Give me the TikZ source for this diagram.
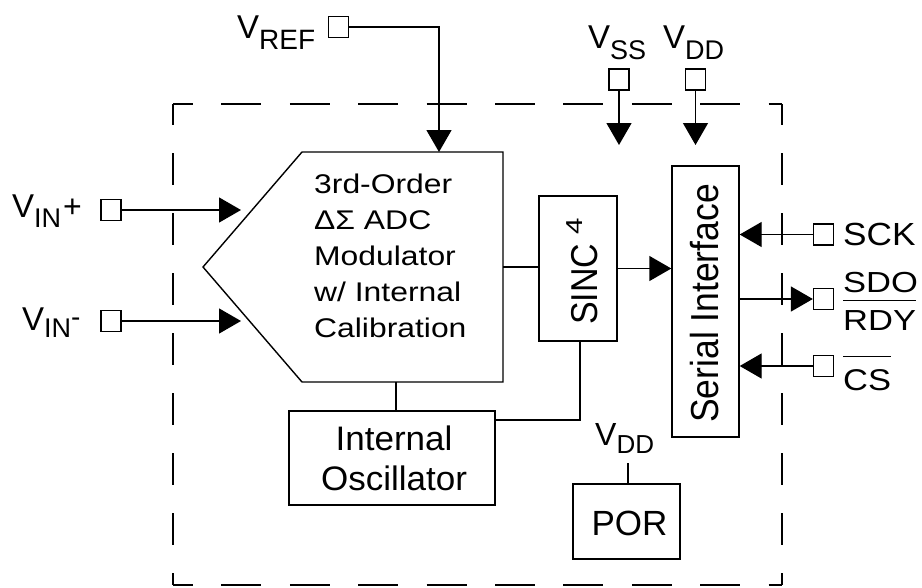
\documentclass[tikz,border=0pt]{standalone}
\usepackage{fontspec}
\setmainfont{Liberation Sans}
\usetikzlibrary{arrows.meta}
\newcommand\ftx[3]{\scalebox{#2}[1]{\fontsize{#1}{#1}\selectfont #3}}
\newcommand\ftxb[4]{\scalebox{#3}[1]{\fontsize{#1}{#2}\selectfont #4}}
\newcommand\lowr[3]{\raisebox{#1}{\fontsize{#2}{#2}\selectfont #3}}
\newcommand\ovbar[2]{\setbox0\hbox{#2}\rlap{\rule[#1]{\wd0}{1.5pt}}\box0}
\begin{document}
\begin{tikzpicture}[x=1pt,y=-1pt,
  ln/.style={line width=1.4pt},
  arr/.style={line width=1.4pt,-{Triangle[length=22pt,width=25pt]}},
  blk/.style={draw,line width=1.4pt,inner sep=0pt},
  pinsq/.style={draw,line width=1.3pt,inner sep=0pt,minimum width=20pt,minimum height=21pt},
  lbl/.style={inner sep=0pt,anchor=base west},
  dsh/.style={line width=1.5pt,dash pattern=on 40pt off 28.4pt,dash phase=20pt},
  dshv/.style={line width=1.5pt,dash pattern=on 32pt off 28pt,dash phase=11pt}]
\useasboundingbox (0,0) rectangle (922,587);

% dashed chip outline
\coordinate (dTL) at (173,104);
\coordinate (dTR) at (782,104);
\coordinate (dBL) at (173,585);
\coordinate (dBR) at (782,585);
\draw[dsh] (dTL) -- (dTR);
\draw[dshv] (dTL) -- (dBL);
\draw[dshv] (dTR) -- (dBR);
\draw[dsh] (dBL) -- (dBR);

% modulator
\coordinate (mTL) at (302,152);
\coordinate (mTR) at (503,152);
\coordinate (mBR) at (503,382);
\coordinate (mBL) at (302,382);
\coordinate (mP) at (203,267);
\draw[ln,line join=miter] (mTL) -- (mTR) -- (mBR) -- (mBL) -- (mP) -- cycle;
\node[lbl] (modtxt) at (314,193) {\ftxb{27}{36}{1.18}{\begin{tabular}[t]{@{}l@{}}3rd-Order\\ ΔΣ ADC\\ Modulator\\ w/ Internal\\ Calibration\end{tabular}}};

% blocks
\node[blk,minimum width=206pt,minimum height=94pt] (osc) at (392,458) {};
\node[inner sep=0pt,anchor=base] (osctxt) at (394,450) {\ftxb{34}{40}{1.03}{\begin{tabular}[t]{@{}c@{}}Internal\\ Oscillator\end{tabular}}};
\node[blk,minimum width=78pt,minimum height=145pt] (sinc) at (578,268.5) {};
\node[lbl,rotate=90] (sinctxt) at (597,325) {\scalebox{1}[1.1]{\fontsize{34}{34}\selectfont SINC \raisebox{13pt}{\scalebox{1.4}[1]{\fontsize{21}{21}\selectfont 4}}}};
\node[blk,minimum width=67pt,minimum height=271pt] (ser) at (705.5,301.5) {};
\node[lbl,rotate=90] (sertxt) at (718,423) {\scalebox{1}[1.1]{\fontsize{35.5}{35.5}\selectfont Serial Interface}};
\node[blk,minimum width=107pt,minimum height=75pt] (por) at (626.5,521.5) {};
\node[inner sep=0pt,anchor=base] (portxt) at (629.5,535) {\fontsize{35}{35}\selectfont POR};

% pins
\node[pinsq] (vref) at (338.5,27) {};
\node[pinsq] (vinp) at (111,210) {};
\node[pinsq] (vinm) at (111,321) {};
\node[pinsq] (vss) at (619,79.5) {};
\node[pinsq] (vdd) at (695.5,79.5) {};
\node[pinsq] (sck) at (823.5,234.5) {};
\node[pinsq] (sdo) at (823.5,299) {};
\node[pinsq] (cs) at (823.5,366) {};

% connectors
\coordinate (refin) at (439,152);
\draw[arr] (vref.east) -| (refin);
\coordinate (inp) at (241,210);
\draw[arr] (vinp.east) -- (inp);
\coordinate (inm) at (241,321);
\draw[arr] (vinm.east) -- (inm);
\coordinate (vssin) at (619,145);
\draw[arr] (vss.south) -- (vssin);
\coordinate (vddin) at (695.5,145);
\draw[arr] (vdd.south) -- (vddin);
\draw[arr] (sck.west) -- (sck.west -| ser.east);
\draw[arr] (sdo.west -| ser.east) -- (sdo.west);
\draw[arr] (cs.west) -- (cs.west -| ser.east);
\coordinate (modR) at (503,267);
\draw[ln] (modR) -- (modR -| sinc.west);
\draw[arr] (sinc.east) -- (sinc.east -| ser.west);
\coordinate (modB) at (396,382);
\draw[ln] (modB) -- (modB |- osc.north);
\coordinate (sincB) at (580,341);
\coordinate (oscR) at (495,420);
\draw[ln] (sincB) |- (oscR);
\coordinate (porv) at (628,463);
\draw[ln] (porv) -- (porv |- por.north);

% labels
\node[lbl] (vreflbl) at (237,38) {\fontsize{33}{33}\selectfont V\lowr{-11pt}{28}{REF}};
\node[lbl] (vinplbl) at (12,217) {\fontsize{33}{33}\selectfont V\lowr{-10pt}{27}{IN}\kern2pt\fontsize{32}{32}\selectfont +};
\node[lbl] (vinmlbl) at (22,330) {\fontsize{33}{33}\selectfont V\lowr{-7pt}{27}{IN}\lowr{4pt}{28}{-}};
\node[lbl] (vsslbl) at (588,48) {\fontsize{33}{33}\selectfont V\lowr{-11pt}{27}{SS}};
\node[lbl] (vddlbl) at (663,48) {\fontsize{33}{33}\selectfont V\lowr{-11pt}{27}{DD}};
\node[lbl] (vddplbl) at (595,445) {\fontsize{32}{32}\selectfont V\lowr{-8pt}{26}{DD}};
\node[lbl] (scklbl) at (843,245) {\ftx{32}{1.1}{SCK}};
\node[lbl] (sdolbl) at (843,292) {\ftx{29}{1.19}{SDO}};
\node[lbl] (rdylbl) at (843,330) {\ftx{29}{1.19}{\ovbar{29pt}{RDY}}};
\node[lbl] (cslbl) at (843,390) {\ftx{30}{1.15}{\ovbar{33pt}{CS}}};
\end{tikzpicture}
\end{document}
